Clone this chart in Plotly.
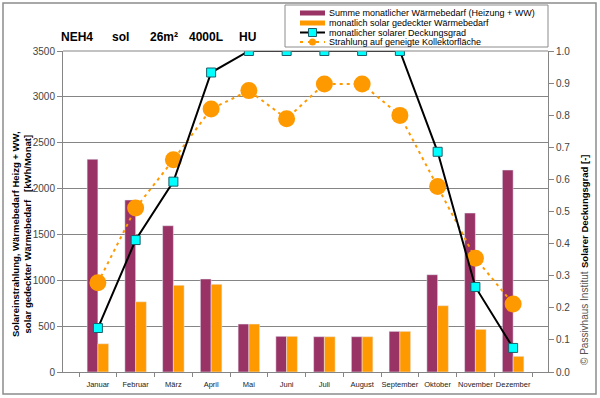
import plotly.graph_objects as go

months = ["Januar", "Februar", "März", "April", "Mai", "Juni", "Juli",
          "August", "September", "Oktober", "November", "Dezember"]
waermebedarf = [2320, 1875, 1595, 1014, 523, 389, 385, 385, 443, 1061, 1733, 2202]
solar_gedeckt = [308, 766, 945, 956, 523, 389, 385, 385, 443, 723, 465, 171]
deckungsgrad = [0.137, 0.411, 0.593, 0.933, 1.0, 1.0, 1.0, 1.0, 1.0, 0.686, 0.265, 0.075]
strahlung = [972, 1787, 2314, 2868, 3068, 2762, 3141, 3141, 2798, 2023, 1241, 742]
title_items = ["NEH4", "sol", "26m²", "4000L", "HU"]
legend_labels = ["Summe monatlicher Wärmebedarf (Heizung + WW)",
                 "monatlich solar gedeckter Wärmebedarf",
                 "monatlicher solarer Deckungsgrad",
                 "Strahlung auf geneigte Kollektorfläche"]

PURPLE = "#993366"
ORANGE = "#FF9900"
CYAN = "#00FFFF"
GRID = "#858585"
FONT = "Liberation Sans, Arial, sans-serif"

# plot area in pixels
L, R, T, B = 63, 548, 51, 372
W, H = 600, 398


def px(x):
    return (x - L) / (R - L)


def py(y):
    return (B - y) / (B - T)


fig = go.Figure()
fig.add_trace(go.Bar(x=months, y=waermebedarf, marker_color=PURPLE,
                     name=legend_labels[0], showlegend=False))
fig.add_trace(go.Bar(x=months, y=solar_gedeckt, marker_color=ORANGE,
                     name=legend_labels[1], showlegend=False))
fig.add_trace(go.Scatter(x=months, y=strahlung, mode="lines+markers",
                         line=dict(color=ORANGE, width=2, dash="3px,4px"),
                         marker=dict(color=ORANGE, size=17, symbol="circle"),
                         name=legend_labels[3], showlegend=False))
fig.add_trace(go.Scatter(x=months, y=deckungsgrad, mode="lines+markers", yaxis="y2",
                         line=dict(color="black", width=2),
                         marker=dict(color=CYAN, size=9, symbol="square",
                                     line=dict(color="#1a5f6a", width=1)),
                         name=legend_labels[2], showlegend=False))

shapes = []
annotations = []

# outer frame
shapes.append(dict(type="rect", xref="paper", yref="paper",
                   x0=px(3), x1=px(596), y0=py(394), y1=py(3),
                   line=dict(color="#8c8c8c", width=1.5), layer="below"))
# top gridline
shapes.append(dict(type="line", xref="paper", yref="paper",
                   x0=0, x1=1, y0=1, y1=1, line=dict(color=GRID, width=1)))

# title items
title_x = [77, 120, 164, 206, 247]
for t, xx in zip(title_items, title_x):
    annotations.append(dict(text="<b>%s</b>" % t, xref="paper", yref="paper",
                            x=px(xx), y=py(37), showarrow=False,
                            font=dict(family=FONT, size=12, color="black"),
                            xanchor="center", yanchor="middle"))

# legend box
shapes.append(dict(type="rect", xref="paper", yref="paper",
                   x0=px(285), x1=px(548), y0=py(47), y1=py(5),
                   line=dict(color="#8c8c8c", width=1), fillcolor="white"))
rows = [13, 23, 32.5, 42]
sx0, sx1 = 300, 325
shapes.append(dict(type="rect", xref="paper", yref="paper",
                   x0=px(sx0), x1=px(sx1), y0=py(rows[0] + 2.5), y1=py(rows[0] - 2.5),
                   fillcolor=PURPLE, line=dict(width=0)))
shapes.append(dict(type="rect", xref="paper", yref="paper",
                   x0=px(sx0), x1=px(sx1), y0=py(rows[1] + 2.5), y1=py(rows[1] - 2.5),
                   fillcolor=ORANGE, line=dict(width=0)))
shapes.append(dict(type="line", xref="paper", yref="paper",
                   x0=px(sx0), x1=px(sx1), y0=py(rows[2]), y1=py(rows[2]),
                   line=dict(color="black", width=2)))
shapes.append(dict(type="rect", xref="paper", yref="paper",
                   x0=px(308.5), x1=px(316.5), y0=py(rows[2] + 4), y1=py(rows[2] - 4),
                   fillcolor=CYAN, line=dict(color="#1a5f6a", width=1)))
shapes.append(dict(type="line", xref="paper", yref="paper",
                   x0=px(sx0), x1=px(sx1), y0=py(rows[3]), y1=py(rows[3]),
                   line=dict(color=ORANGE, width=2, dash="3px,5px")))
shapes.append(dict(type="circle", xref="paper", yref="paper",
                   x0=px(309), x1=px(316), y0=py(rows[3] + 3.5), y1=py(rows[3] - 3.5),
                   fillcolor=ORANGE, line=dict(width=0)))
for lab, r in zip(legend_labels, rows):
    annotations.append(dict(text=lab, xref="paper", yref="paper",
                            x=px(327), y=py(r), showarrow=False,
                            xanchor="left", yanchor="middle",
                            font=dict(family=FONT, size=9, color="black")))

# left axis title
annotations.append(dict(text="<b>Solareinstrahlung, Wärmebedarf Heizg + WW,<br>"
                             "solar gedeckter Wärmebedarf   [kWh/Monat]</b>",
                        xref="paper", yref="paper", x=px(22), y=py(234),
                        showarrow=False, textangle=-90,
                        xanchor="center", yanchor="middle",
                        font=dict(family=FONT, size=9.5, color="black")))
# right axis title
annotations.append(dict(text="<b>Solarer Deckungsgrad [-]</b>",
                        xref="paper", yref="paper", x=px(584), y=py(211),
                        showarrow=False, textangle=-90,
                        xanchor="center", yanchor="middle",
                        font=dict(family=FONT, size=9.5, color="black")))
annotations.append(dict(text="© Passivhaus Institut",
                        xref="paper", yref="paper", x=px(584), y=py(318),
                        showarrow=False, textangle=-90,
                        xanchor="center", yanchor="middle",
                        font=dict(family=FONT, size=10, color="#555555")))

fig.update_layout(
    width=W, height=H,
    margin=dict(l=L, r=W - R, t=T, b=H - B, pad=0, autoexpand=False),
    paper_bgcolor="white", plot_bgcolor="white",
    barmode="group", bargap=0.43, bargroupgap=0,
    showlegend=False,
    font=dict(family=FONT, size=10, color="#333333"),
    xaxis=dict(showline=True, linecolor=GRID, linewidth=1, automargin=False,
               ticks="outside", tickson="boundaries", ticklen=4, tickcolor=GRID,
               tickangle=0, ticklabelstandoff=5,
               tickfont=dict(size=7.5, color="#222222"), showgrid=False),
    yaxis=dict(range=[0, 3500], dtick=500, showline=True, linecolor=GRID,
               ticks="outside", ticklen=5, tickcolor=GRID, automargin=False,
               gridcolor=GRID, gridwidth=1, zeroline=False,
               tickfont=dict(size=10, color="#444444")),
    yaxis2=dict(range=[0, 1], dtick=0.1, tickformat=".1f", overlaying="y",
                side="right", showline=True, linecolor=GRID, showgrid=False,
                ticks="outside", ticklen=5, tickcolor=GRID, zeroline=False,
                automargin=False, tickfont=dict(size=10, color="#444444")),
    shapes=shapes, annotations=annotations,
)

fig.write_html("out.html", config={"displayModeBar": False},
               post_script="document.body.style.margin='0';"
                           "document.body.style.overflow='hidden';")
